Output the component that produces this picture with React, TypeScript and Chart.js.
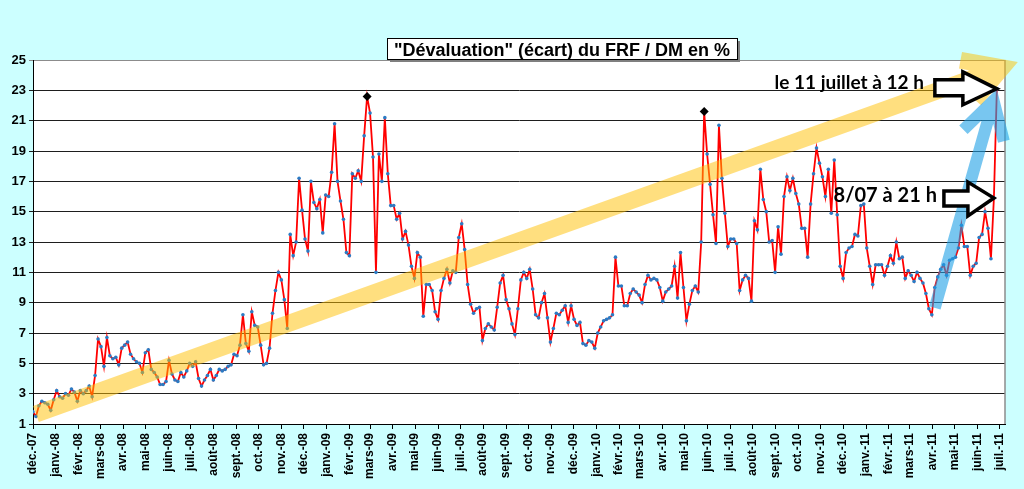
import React, { useEffect, useRef } from 'react';
import { Chart, registerables } from 'chart.js';

Chart.register(...registerables);

// Axis labels, one per month start (Dec 2007 -> Jul 2011)
const monthLabels = [
  'déc.-07',
  'janv.-08', 'févr.-08', 'mars-08', 'avr.-08', 'mai-08', 'juin-08', 'juil.-08', 'août-08', 'sept.-08', 'oct.-08', 'nov.-08', 'déc.-08',
  'janv.-09', 'févr.-09', 'mars-09', 'avr.-09', 'mai-09', 'juin-09', 'juil.-09', 'août-09', 'sept.-09', 'oct.-09', 'nov.-09', 'déc.-09',
  'janv.-10', 'févr.-10', 'mars-10', 'avr.-10', 'mai-10', 'juin-10', 'juil.-10', 'août-10', 'sept.-10', 'oct.-10', 'nov.-10', 'déc.-10',
  'janv.-11', 'févr.-11', 'mars-11', 'avr.-11', 'mai-11', 'juin-11', 'juil.-11',
];

// days between two readings, counted from 1 Dec 2007
const sampleStep = 4;

// "dévaluation" (écart) FRF / DM, in %
const devaluation = [
  1.8, 1.5, 2.2, 2.5, 2.4, 2.3, 1.9, 2.6, 3.2, 2.8,
  2.7, 3.0, 2.9, 3.3, 3.1, 2.5, 3.2, 3.0, 3.2, 3.5,
  2.8, 4.2, 6.6, 6.1, 4.8, 6.7, 5.5, 5.3, 5.4, 4.9,
  6.0, 6.2, 6.4, 5.6, 5.3, 5.1, 5.0, 4.4, 5.7, 5.9,
  4.6, 4.4, 4.1, 3.6, 3.6, 3.8, 5.2, 4.3, 3.9, 3.8,
  4.4, 4.1, 4.5, 5.0, 4.8, 5.1, 4.0, 3.5, 3.9, 4.2,
  4.6, 3.9, 4.2, 4.6, 4.5, 4.6, 4.8, 4.9, 5.6, 5.5,
  6.2, 8.2, 6.3, 5.8, 8.4, 7.5, 7.4, 6.2, 4.9, 5.0,
  6.0, 8.3, 9.8, 11.0, 10.5, 9.2, 7.3, 13.5, 12.1, 13.0,
  17.2, 15.1, 13.2, 12.4, 17.0, 15.6, 15.2, 15.8, 13.6, 16.1,
  16.0, 17.6, 20.8, 17.0, 15.7, 14.5, 12.3, 12.1, 17.5, 17.2,
  17.7, 17.0, 20.0, 22.6, 21.5, 18.6, 11.0, 18.8, 17.0, 21.2,
  17.5, 15.4, 15.4, 14.5, 14.9, 13.2, 13.7, 12.8, 11.4, 10.6,
  12.3, 12.0, 8.1, 10.2, 10.2, 9.8, 8.4, 7.9, 9.8, 10.6,
  11.2, 10.3, 11.1, 11.0, 13.3, 14.2, 12.5, 10.2, 8.9, 8.3,
  8.6, 8.7, 6.5, 7.3, 7.6, 7.4, 7.2, 8.7, 10.3, 10.8,
  9.2, 8.6, 7.6, 6.9, 8.6, 10.5, 11.0, 10.6, 11.2, 9.9,
  8.2, 8.0, 9.0, 9.6, 8.0, 6.4, 7.3, 8.3, 8.2, 8.5,
  8.8, 7.7, 8.8, 7.9, 7.5, 7.7, 6.3, 6.2, 6.5, 6.4,
  6.0, 7.0, 7.4, 7.8, 7.9, 8.0, 8.2, 12.0, 10.1, 10.1,
  8.8, 8.8, 9.6, 9.9, 9.7, 9.5, 9.0, 10.2, 10.8, 10.5,
  10.6, 10.5, 10.0, 9.1, 9.7, 9.9, 10.1, 11.4, 9.3, 12.3,
  10.0, 7.8, 8.9, 9.8, 10.1, 9.7, 13.0, 21.6, 18.8, 16.8,
  14.8, 12.9, 20.7, 17.2, 14.9, 12.7, 13.2, 13.2, 12.9, 9.8,
  10.5, 10.8, 10.6, 9.1, 14.4, 13.8, 17.8, 15.8, 15.0, 13.0,
  13.1, 11.0, 14.0, 12.2, 16.0, 17.3, 16.4, 17.2, 16.2, 15.5,
  13.9, 13.9, 12.0, 15.5, 17.5, 19.2, 18.2, 17.3, 16.0, 17.8,
  14.9, 18.4, 14.8, 11.4, 10.6, 12.3, 12.6, 12.7, 13.5, 13.4,
  15.4, 15.5, 12.6, 11.4, 10.2, 11.5, 11.5, 11.5, 10.8, 11.4,
  12.1, 11.6, 13.0, 11.9, 12.0, 10.6, 11.1, 10.8, 10.4, 11.0,
  10.6, 10.3, 9.6, 8.6, 8.2, 10.0, 10.7, 11.2, 11.5, 10.8,
  11.8, 11.9, 12.0, 12.6, 14.1, 12.7, 12.7, 10.8, 11.4, 11.6,
  13.3, 13.5, 15.0, 13.9, 11.9, 15.9, 23.1,
];

// readings marked with a black diamond
const peakIndexes = [113, 227];

// readings pointed at by the outlined arrows
const lastIndex = devaluation.length - 1;
const eveIndex = devaluation.length - 2;

function monthStartDays(): number[] {
  const origin = Date.UTC(2007, 11, 1);
  return monthLabels.map((_, i) => (Date.UTC(2007, 11 + i, 1) - origin) / 86400000);
}

function openArrow(ctx: CanvasRenderingContext2D, from: any, tip: any, width: number, wing: number, color: string) {
  const back = Math.atan2(from.y - tip.y, from.x - tip.x);
  const spread = Math.PI / 6;
  ctx.save();
  ctx.strokeStyle = color;
  ctx.lineWidth = width;
  ctx.lineJoin = 'miter';
  ctx.lineCap = 'butt';
  ctx.beginPath();
  ctx.moveTo(from.x, from.y);
  ctx.lineTo(tip.x, tip.y);
  ctx.moveTo(tip.x + wing * Math.cos(back - spread), tip.y + wing * Math.sin(back - spread));
  ctx.lineTo(tip.x, tip.y);
  ctx.lineTo(tip.x + wing * Math.cos(back + spread), tip.y + wing * Math.sin(back + spread));
  ctx.stroke();
  ctx.restore();
}

// block arrow pointing right, tip at (x, y)
function blockArrow(ctx: CanvasRenderingContext2D, x: number, y: number, s: any) {
  ctx.save();
  ctx.beginPath();
  ctx.moveTo(x - s.len, y - s.shaftUp);
  ctx.lineTo(x - s.head, y - s.shaftUp);
  ctx.lineTo(x - s.head, y - s.headUp);
  ctx.lineTo(x, y);
  ctx.lineTo(x - s.head, y + s.headDown);
  ctx.lineTo(x - s.head, y + s.shaftDown);
  ctx.lineTo(x - s.len, y + s.shaftDown);
  ctx.closePath();
  ctx.fillStyle = '#ffffff';
  ctx.fill();
  ctx.lineWidth = 3.5;
  ctx.lineJoin = 'miter';
  ctx.strokeStyle = '#000000';
  ctx.stroke();
  ctx.restore();
}

const overlays = {
  id: 'overlays',
  beforeDraw(chart: any) {
    const { ctx, chartArea } = chart;
    ctx.save();
    ctx.fillStyle = '#ffffff';
    ctx.fillRect(chartArea.left, chartArea.top, chartArea.right - chartArea.left, chartArea.bottom - chartArea.top);
    ctx.restore();
  },
  afterDraw(chart: any) {
    const { ctx, chartArea } = chart;
    const x = chart.scales.x;
    const y = chart.scales.y;
    const at = (day: number, v: number) => ({ x: x.getPixelForValue(day), y: y.getPixelForValue(v) });

    // grey right border of the plot
    ctx.save();
    ctx.strokeStyle = '#8c8c8c';
    ctx.lineWidth = 1.5;
    ctx.beginPath();
    ctx.moveTo(chartArea.right, chartArea.top);
    ctx.lineTo(chartArea.right, chartArea.bottom);
    ctx.stroke();
    ctx.restore();

    // trend arrows
    openArrow(ctx, at(4, 1.66), at(1310.7, 24.49), 17, 42, 'rgba(255, 192, 0, 0.5)');
    openArrow(ctx, at(1220, 8.65), at(1299.5, 22.33), 12, 42, 'rgba(30, 160, 230, 0.6)');

    // outlined arrows with their captions
    const tip1 = at(lastIndex * sampleStep, devaluation[lastIndex]);
    const tip2 = at(eveIndex * sampleStep, devaluation[eveIndex]);
    blockArrow(ctx, tip1.x, tip1.y, { len: 62, head: 34, shaftUp: 9, shaftDown: 7, headUp: 17, headDown: 16 });
    blockArrow(ctx, tip2.x, tip2.y, { len: 50, head: 26, shaftUp: 7, shaftDown: 8, headUp: 16, headDown: 18 });

    ctx.save();
    ctx.fillStyle = '#000000';
    ctx.textAlign = 'right';
    ctx.textBaseline = 'alphabetic';
    ctx.font = 'bold 19px Lato, "Open Sans", sans-serif';
    ctx.fillText('le 11 juillet à 12 h', tip1.x - 73, tip1.y);
    ctx.font = 'bold 20px Lato, "Open Sans", sans-serif';
    ctx.fillText('8/07 à 21 h', tip2.x - 57, tip2.y + 4);
    ctx.restore();

    // title box
    const bx = 387, by = 38, bw = 350, bh = 21;
    ctx.save();
    ctx.fillStyle = '#7f7f7f';
    ctx.fillRect(bx + 3, by + 3, bw, bh);
    ctx.fillStyle = '#ffffff';
    ctx.fillRect(bx, by, bw, bh);
    ctx.strokeStyle = '#000000';
    ctx.lineWidth = 1;
    ctx.strokeRect(bx + 0.5, by + 0.5, bw, bh);
    ctx.fillStyle = '#000000';
    ctx.font = 'bold 18px "Liberation Sans", Arial, sans-serif';
    ctx.textAlign = 'center';
    ctx.textBaseline = 'alphabetic';
    ctx.fillText('"Dévaluation" (écart) du FRF / DM en %', bx + bw / 2, by + 17.5);
    ctx.restore();
  },
};

export default function App() {
  const canvasRef = useRef<HTMLCanvasElement>(null);

  useEffect(() => {
    document.body.style.margin = '0';
    if (!canvasRef.current) return;

    const monthDays = monthStartDays();
    const points = devaluation.map((v, i) => ({ x: i * sampleStep, y: v }));
    const peaks = peakIndexes.map((i) => ({ x: i * sampleStep, y: devaluation[i] }));

    const chart = new Chart(canvasRef.current, {
      type: 'line',
      data: {
        datasets: [
          {
            data: peaks,
            showLine: false,
            pointStyle: 'rectRot',
            pointRadius: 4.5,
            pointBackgroundColor: '#000000',
            pointBorderColor: '#000000',
            pointBorderWidth: 0,
            order: 0,
          },
          {
            data: points,
            borderColor: '#ff0000',
            borderWidth: 1.8,
            pointRadius: 1.8,
            pointBackgroundColor: '#2b7bc4',
            pointBorderWidth: 0,
            tension: 0,
            order: 1,
          },
        ],
      },
      options: {
        animation: false,
        responsive: false,
        events: [],
        layout: { padding: { top: 60, right: 19, left: 0, bottom: 0 } },
        plugins: {
          legend: { display: false },
          tooltip: { enabled: false },
        },
        scales: {
          x: {
            type: 'linear',
            min: 0,
            max: 1315,
            afterBuildTicks: (axis: any) => {
              axis.ticks = monthDays.map((value) => ({ value }));
            },
            afterFit: (axis: any) => {
              axis.height = 65;
            },
            ticks: {
              autoSkip: false,
              minRotation: 90,
              maxRotation: 90,
              padding: 4,
              color: '#000000',
              font: { family: '"Liberation Sans", Arial, sans-serif', size: 12, weight: 'bold' },
              callback: (_v: any, i: number) => monthLabels[i],
            },
            grid: { drawOnChartArea: false, tickLength: 5, color: '#000000' },
            border: { color: '#000000', width: 1 },
          },
          y: {
            min: 1,
            max: 25,
            afterFit: (axis: any) => {
              axis.width = 33;
            },
            ticks: {
              stepSize: 2,
              padding: 3,
              color: '#000000',
              font: { family: '"Liberation Sans", Arial, sans-serif', size: 13, weight: 'bold' },
            },
            grid: {
              color: (c: any) => (c.tick && c.tick.value === 25 ? '#8c8c8c' : '#1e1e1e'),
              tickLength: 4,
            },
            border: { color: '#000000', width: 1 },
          },
        },
      },
      plugins: [overlays],
    } as any);

    return () => chart.destroy();
  }, []);

  return (
    <div style={{ width: 1024, height: 489, background: '#ccffff', position: 'relative' }}>
      <canvas ref={canvasRef} width={1024} height={489} style={{ display: 'block' }} />
    </div>
  );
}
